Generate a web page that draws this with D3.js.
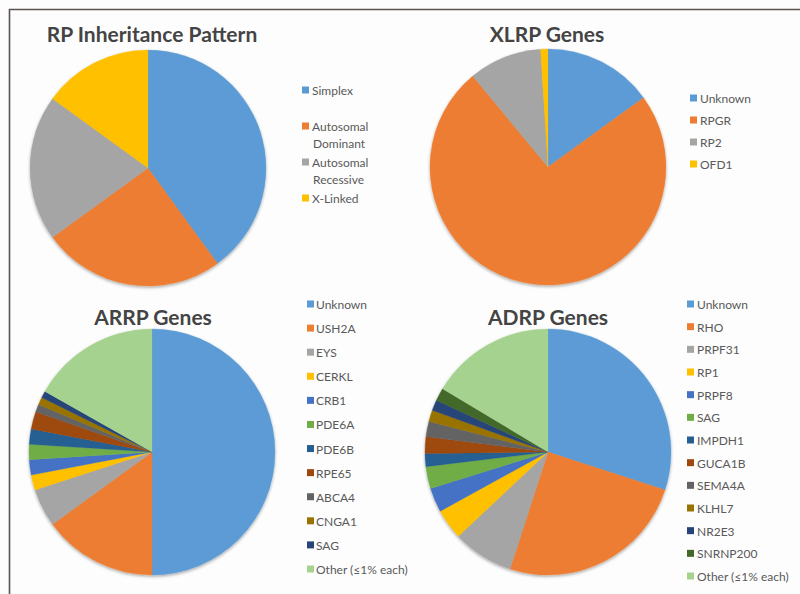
<!DOCTYPE html>
<html><head><meta charset="utf-8">
<script src="https://cdn.jsdelivr.net/npm/d3@7"></script>
<style>html,body{margin:0;padding:0;background:#fdfdfd;}svg{display:block;}</style>
</head><body>
<svg id="c" width="800" height="594"></svg>
<script>
// ---- data ----
const inheritLabels = ["Simplex", "Autosomal Dominant", "Autosomal Recessive", "X-Linked"];
const inheritValues = [40, 25, 20, 15];

const xlrpLabels = ["Unknown", "RPGR", "RP2", "OFD1"];
const xlrpValues = [15, 74, 10, 1];

const arrpLabels = ["Unknown", "USH2A", "EYS", "CERKL", "CRB1", "PDE6A", "PDE6B", "RPE65", "ABCA4", "CNGA1", "SAG", "Other (≤1% each)"];
const arrpValues = [50, 15, 5, 2, 2, 2, 2, 2.3, 1, 1, 0.9, 16.8];

const adrpLabels = ["Unknown", "RHO", "PRPF31", "RP1", "PRPF8", "SAG", "IMPDH1", "GUCA1B", "SEMA4A", "KLHL7", "NR2E3", "SNRNP200", "Other (≤1% each)"];
const adrpValues = [30, 25, 8, 4, 3.2, 2.9, 1.7, 2.2, 2, 1.5, 1.4, 1.7, 16.4];

const palette = ["#5B9BD5", "#ED7D31", "#A5A5A5", "#FFC000", "#4472C4", "#70AD47",
                 "#255E91", "#9E480E", "#636363", "#997300", "#264478", "#43682B"];
const otherColor = "#A6D28F";

const svg = d3.select("#c");
const defs = svg.append("defs");
const f = defs.append("filter").attr("id", "sh").attr("x", "-10%").attr("y", "-10%").attr("width", "120%").attr("height", "120%");
f.append("feDropShadow").attr("dx", 0).attr("dy", 1.5).attr("stdDeviation", 1.5).attr("flood-color", "#000").attr("flood-opacity", 0.35);

// frame
svg.append("line").attr("x1", 9).attr("x2", 800).attr("y1", 9.5).attr("y2", 9.5).attr("stroke", "#5a5550").attr("stroke-width", 1.6);
svg.append("line").attr("x1", 9.5).attr("x2", 9.5).attr("y1", 9).attr("y2", 594).attr("stroke", "#5a5550").attr("stroke-width", 1.6);

function colorFor(labels, i) {
  return labels[i].startsWith("Other") ? otherColor : palette[i % palette.length];
}

function drawPie(cfg) {
  const g = svg.append("g");
  const pie = d3.pie().sort(null).value(d => d.v);
  const arc = d3.arc().innerRadius(0).outerRadius(cfg.r);
  const data = cfg.labels.map((l, i) => ({ l, v: cfg.values[i], c: colorFor(cfg.labels, i) }));
  const pg = g.append("g").attr("transform", `translate(${cfg.cx},${cfg.cy})`).attr("filter", "url(#sh)");
  pg.selectAll("path").data(pie(data)).join("path")
    .attr("d", arc).attr("fill", d => d.data.c)
    .attr("stroke", d => d.data.c).attr("stroke-width", 0.3);

  g.append("text").attr("x", cfg.tx).attr("y", cfg.ty)
    .attr("text-anchor", "middle").attr("dominant-baseline", "central")
    .attr("font-family", "Lato, 'Open Sans', sans-serif").attr("font-weight", "bold")
    .attr("font-size", 21).attr("fill", "#444").text(cfg.title);

  const ly = d3.scaleLinear().domain([0, data.length - 1]).range([cfg.ly0, cfg.ly1]);
  const items = g.selectAll("g.leg").data(data).join("g").attr("class", "leg")
    .attr("transform", (d, i) => `translate(0,${ly(i)})`);
  items.append("rect").attr("x", cfg.mx).attr("y", -3.5).attr("width", 7).attr("height", 7).attr("fill", d => d.c);
  const t = items.append("text").attr("x", cfg.lx).attr("y", 0)
    .attr("font-family", "Lato, 'Open Sans', sans-serif").attr("font-size", 12)
    .attr("fill", "#595959").attr("dominant-baseline", "central");
  t.each(function(d) {
    const lines = cfg.wrap ? d.l.split(" ") : [d.l];
    const s = d3.select(this);
    lines.forEach((ln, k) => {
      s.append("tspan").attr("x", cfg.lx + (k > 0 ? 1 : 0)).attr("dy", k === 0 ? 0 : 16.5).text(ln);
    });
  });
}

drawPie({ labels: inheritLabels, values: inheritValues, cx: 148, cy: 168, r: 118,
  title: "RP Inheritance Pattern", tx: 152, ty: 33, mx: 302, lx: 312, ly0: 90, ly1: 198, wrap: true });
drawPie({ labels: xlrpLabels, values: xlrpValues, cx: 548, cy: 167, r: 118,
  title: "XLRP Genes", tx: 547, ty: 33, mx: 690, lx: 700, ly0: 98, ly1: 164 });
drawPie({ labels: arrpLabels, values: arrpValues, cx: 152, cy: 452, r: 123,
  title: "ARRP Genes", tx: 153, ty: 316, mx: 307, lx: 316, ly0: 304, ly1: 569 });
drawPie({ labels: adrpLabels, values: adrpValues, cx: 548, cy: 452, r: 123,
  title: "ADRP Genes", tx: 548, ty: 316, mx: 687, lx: 697, ly0: 304, ly1: 576 });
</script>
</body></html>
